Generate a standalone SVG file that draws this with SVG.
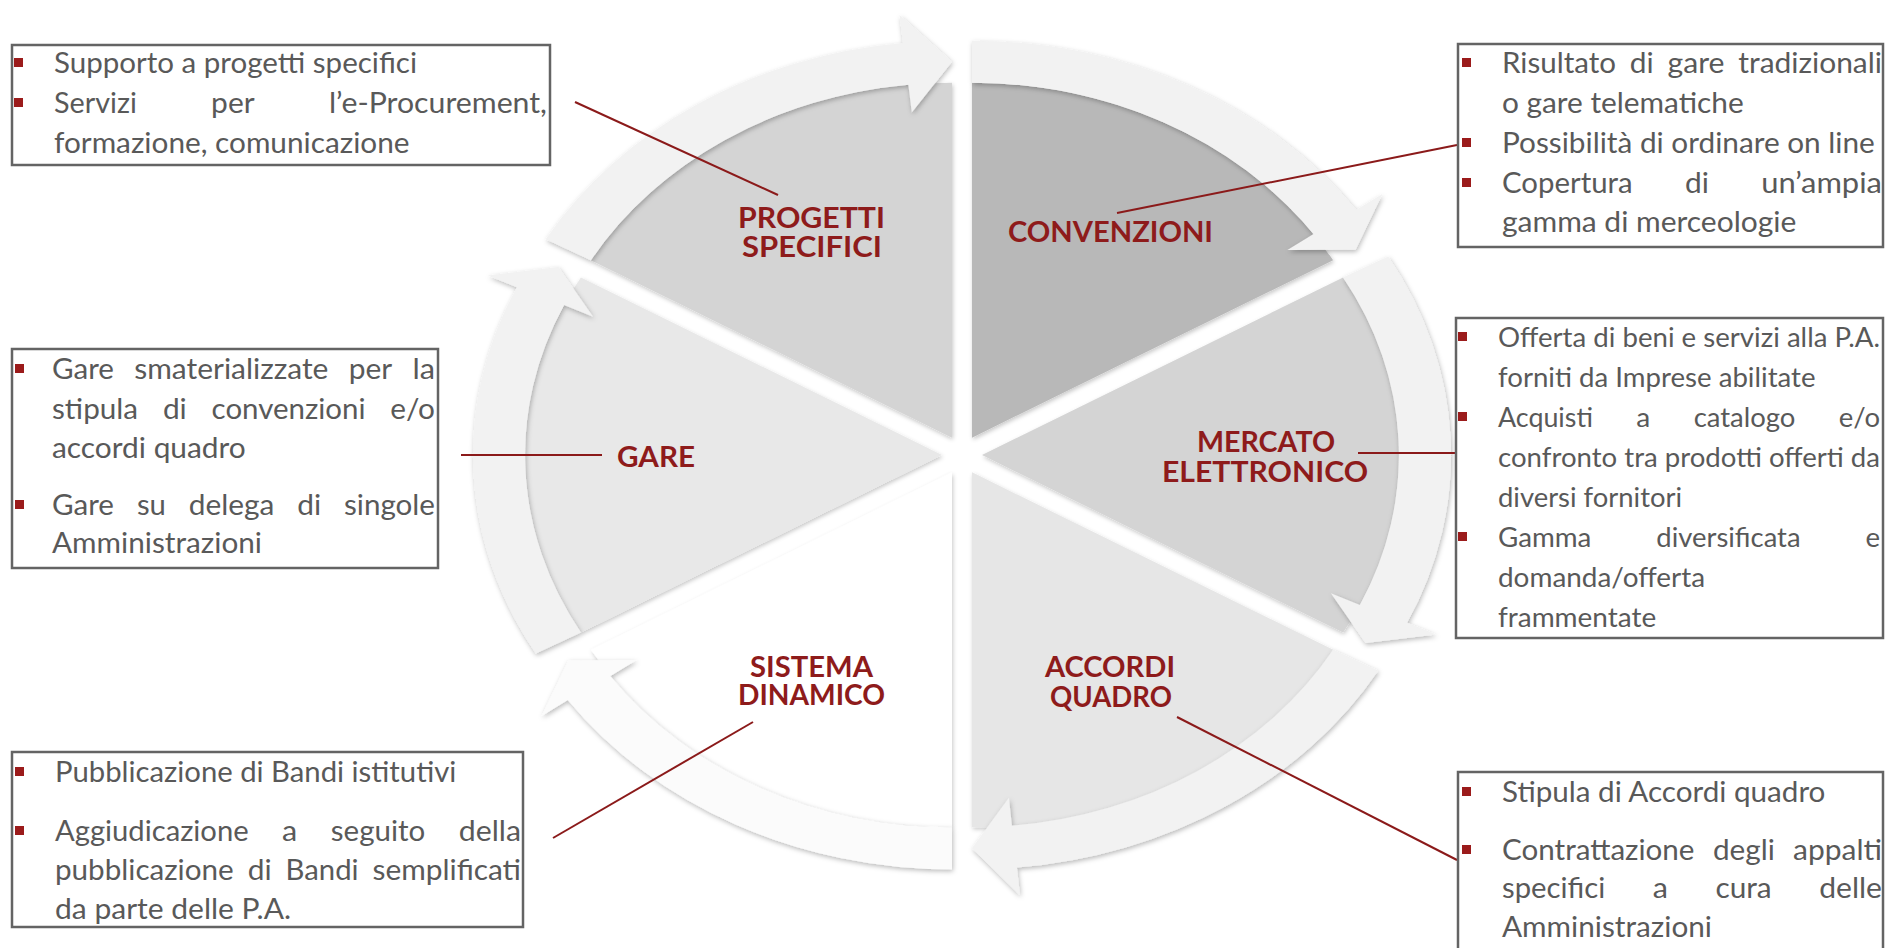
<svg xmlns="http://www.w3.org/2000/svg" width="1887" height="948" viewBox="0 0 1887 948">
<defs>
<style>
.bx{fill:#ffffff;stroke:#646464;stroke-width:2.5}
.tx{font-family:Lato,"Open Sans",sans-serif;font-size:29px;fill:#595959}
.t3{font-family:Lato,"Open Sans",sans-serif;font-size:27px;fill:#595959}
.bl{fill:#9b1b1b}
.lb{font-family:Lato,"Open Sans",sans-serif;font-weight:700;font-size:28px;fill:#8e1b1b}
.cn{stroke:#8b1a1a;stroke-width:2;fill:none}
.band{fill:#f2f2f2;filter:url(#sh)}
.sec{filter:url(#sh2)}
</style>
<filter id="sh" x="-20%" y="-20%" width="140%" height="140%"><feDropShadow dx="1" dy="2" stdDeviation="2.5" flood-color="#000" flood-opacity="0.28"/></filter>
<filter id="sh2" x="-20%" y="-20%" width="140%" height="140%"><feDropShadow dx="1" dy="2" stdDeviation="2" flood-color="#000" flood-opacity="0.22"/></filter>
</defs>
<rect width="1887" height="948" fill="#ffffff"/>

<!-- wheel segments -->
<g id="seg-progetti" transform="translate(-10,-17.32)">
<path class="sec" fill="#d4d4d4" d="M962,455 L600.9,277.5 A417 355 0 0 1 962,100 Z"/>
<path class="band" d="M555.8,256.5 A469 397 0 0 1 913,60.2 L909.6,32.3 L962,79 L921.8,129.8 L918.4,102 A417 355 0 0 0 600.9,277.5 Z"/>
</g>
<g id="seg-convenzioni" transform="translate(10,-17.32)">
<path class="sec" fill="#b8b8b8" d="M962,455 L962,100 A417 355 0 0 1 1323.1,277.5 Z"/>
<path class="band" d="M962,58 A469 397 0 0 1 1346.2,227.3 L1372.4,211.2 L1345.6,267 L1277.4,267.4 L1303.6,251.4 A417 355 0 0 0 962,100 Z"/>
</g>
<g id="seg-mercato" transform="translate(20,0)">
<path class="sec" fill="#d4d4d4" d="M962,455 L1323.1,277.5 A417 355 0 0 1 1323.1,632.5 Z"/>
<path class="band" d="M1368.2,256.5 A469 397 0 0 1 1387.1,622.8 L1416.1,634.6 L1345.6,643 L1310.9,593.2 L1339.9,605 A417 355 0 0 0 1323.1,277.5 Z"/>
</g>
<g id="seg-accordi" transform="translate(10,17.32)">
<path class="sec" fill="#e6e6e6" d="M962,455 L1323.1,632.5 A417 355 0 0 1 962,810 Z"/>
<path class="band" d="M1368.2,653.5 A469 397 0 0 1 1006.9,850.2 L1010,878 L962,831 L998.9,780.5 L1001.9,808.4 A417 355 0 0 0 1323.1,632.5 Z"/>
</g>
<g id="seg-sistema" transform="translate(-10,17.32)">
<path class="sec" fill="#ffffff" d="M962,455 L962,810 A417 355 0 0 1 600.9,632.5 Z"/>
<path class="band" style="fill:#fbfbfb" d="M962,852 A469 397 0 0 1 577.8,682.7 L551.6,698.8 L578.4,643 L646.6,642.6 L620.4,658.6 A417 355 0 0 0 962,810 Z"/>
</g>
<g id="seg-gare" transform="translate(-20,0)">
<path class="sec" fill="#e8e8e8" d="M962,455 L600.9,632.5 A417 355 0 0 1 600.9,277.5 Z"/>
<path class="band" d="M555.8,653.5 A469 397 0 0 1 536.9,287.2 L507.9,275.4 L578.4,267 L613.1,316.8 L584.1,305 A417 355 0 0 0 600.9,632.5 Z"/>
</g>

<!-- labels -->
<g id="label-progetti"><text class="lb"><tspan x="738" y="228" textLength="147" lengthAdjust="spacingAndGlyphs">PROGETTI</tspan><tspan x="742" y="257" textLength="140" lengthAdjust="spacingAndGlyphs">SPECIFICI</tspan></text></g>
<g id="label-convenzioni"><text class="lb" x="1008" y="242" textLength="205" lengthAdjust="spacingAndGlyphs">CONVENZIONI</text></g>
<g id="label-mercato"><text class="lb"><tspan x="1197" y="452" textLength="138" lengthAdjust="spacingAndGlyphs">MERCATO</tspan><tspan x="1162" y="482" textLength="206" lengthAdjust="spacingAndGlyphs">ELETTRONICO</tspan></text></g>
<g id="label-accordi"><text class="lb"><tspan x="1045" y="677" textLength="130" lengthAdjust="spacingAndGlyphs">ACCORDI</tspan><tspan x="1050" y="707" textLength="122" lengthAdjust="spacingAndGlyphs">QUADRO</tspan></text></g>
<g id="label-sistema"><text class="lb"><tspan x="750" y="677" textLength="123" lengthAdjust="spacingAndGlyphs">SISTEMA</tspan><tspan x="738" y="705" textLength="147" lengthAdjust="spacingAndGlyphs">DINAMICO</tspan></text></g>
<g id="label-gare"><text class="lb" x="617" y="467" textLength="78" lengthAdjust="spacingAndGlyphs">GARE</text></g>

<!-- connectors -->
<g id="connectors">
<line class="cn" x1="575" y1="102" x2="778" y2="195"/>
<line class="cn" x1="1117" y1="213" x2="1457" y2="145"/>
<line class="cn" x1="1358" y1="453" x2="1456" y2="453"/>
<line class="cn" x1="1177" y1="717" x2="1457" y2="860"/>
<line class="cn" x1="753" y1="722" x2="553" y2="838"/>
<line class="cn" x1="461" y1="455" x2="602" y2="455"/>
</g>

<!-- callout boxes -->
<g id="box-progetti">
<rect class="bx" x="12" y="45" width="538" height="120"/>
<rect class="bl" x="14" y="58" width="9" height="9"/><rect class="bl" x="14" y="98" width="9" height="9"/>
<text class="tx" x="54" y="73" textLength="363" lengthAdjust="spacingAndGlyphs">Supporto a progetti specifici</text>
<text class="tx" x="54" y="113" textLength="82.8" lengthAdjust="spacingAndGlyphs">Servizi</text>
<text class="tx" x="211.1" y="113" textLength="43.5" lengthAdjust="spacingAndGlyphs">per</text>
<text class="tx" x="328.9" y="113" textLength="218.1" lengthAdjust="spacingAndGlyphs">l’e-Procurement,</text>
<text class="tx" x="54" y="153" textLength="355.5" lengthAdjust="spacingAndGlyphs">formazione, comunicazione</text>
</g>

<g id="box-convenzioni">
<rect class="bx" x="1458" y="44" width="425" height="203"/>
<rect class="bl" x="1462" y="58" width="9" height="9"/><rect class="bl" x="1462" y="138" width="9" height="9"/><rect class="bl" x="1462" y="178" width="9" height="9"/>
<text class="tx" x="1502" y="73" textLength="114" lengthAdjust="spacingAndGlyphs">Risultato</text>
<text class="tx" x="1629.8" y="73" textLength="23.9" lengthAdjust="spacingAndGlyphs">di</text>
<text class="tx" x="1667.5" y="73" textLength="57" lengthAdjust="spacingAndGlyphs">gare</text>
<text class="tx" x="1738.3" y="73" textLength="143.7" lengthAdjust="spacingAndGlyphs">tradizionali</text>
<text class="tx" x="1502" y="113" textLength="241.7" lengthAdjust="spacingAndGlyphs">o gare telematiche</text>
<text class="tx" x="1502" y="153" textLength="372.8" lengthAdjust="spacingAndGlyphs">Possibilità di ordinare on line</text>
<text class="tx" x="1502" y="193" textLength="130.6" lengthAdjust="spacingAndGlyphs">Copertura</text>
<text class="tx" x="1685" y="193" textLength="23.9" lengthAdjust="spacingAndGlyphs">di</text>
<text class="tx" x="1761.2" y="193" textLength="120.8" lengthAdjust="spacingAndGlyphs">un’ampia</text>
<text class="tx" x="1502" y="232" textLength="294.3" lengthAdjust="spacingAndGlyphs">gamma di merceologie</text>
</g>

<g id="box-mercato">
<rect class="bx" x="1456" y="318" width="427" height="320"/>
<rect class="bl" x="1458" y="332" width="9" height="9"/><rect class="bl" x="1458" y="412" width="9" height="9"/><rect class="bl" x="1458" y="532" width="9" height="9"/>
<text class="t3" x="1498" y="347" textLength="382" lengthAdjust="spacingAndGlyphs">Offerta di beni e servizi alla P.A.</text>
<text class="t3" x="1498" y="387" textLength="317.5" lengthAdjust="spacingAndGlyphs">forniti da Imprese abilitate</text>
<text class="t3" x="1498" y="427" textLength="94.9" lengthAdjust="spacingAndGlyphs">Acquisti</text>
<text class="t3" x="1636.3" y="427" textLength="14" lengthAdjust="spacingAndGlyphs">a</text>
<text class="t3" x="1693.7" y="427" textLength="101.7" lengthAdjust="spacingAndGlyphs">catalogo</text>
<text class="t3" x="1838.7" y="427" textLength="41.3" lengthAdjust="spacingAndGlyphs">e/o</text>
<text class="t3" x="1498" y="467" textLength="382" lengthAdjust="spacingAndGlyphs">confronto tra prodotti offerti da</text>
<text class="t3" x="1498" y="507" textLength="184" lengthAdjust="spacingAndGlyphs">diversi fornitori</text>
<text class="t3" x="1498" y="547" textLength="93.4" lengthAdjust="spacingAndGlyphs">Gamma</text>
<text class="t3" x="1656.3" y="547" textLength="144.3" lengthAdjust="spacingAndGlyphs">diversificata</text>
<text class="t3" x="1865.4" y="547" textLength="14.6" lengthAdjust="spacingAndGlyphs">e</text>
<text class="t3" x="1498" y="587" textLength="207" lengthAdjust="spacingAndGlyphs">domanda/offerta</text>
<text class="t3" x="1498" y="627" textLength="158.2" lengthAdjust="spacingAndGlyphs">frammentate</text>
</g>

<g id="box-gare">
<rect class="bx" x="12" y="349" width="426" height="219"/>
<rect class="bl" x="15" y="364" width="9" height="9"/><rect class="bl" x="15" y="500" width="9" height="9"/>
<text class="tx" x="52" y="379" textLength="62" lengthAdjust="spacingAndGlyphs">Gare</text>
<text class="tx" x="134.3" y="379" textLength="194.1" lengthAdjust="spacingAndGlyphs">smaterializzate</text>
<text class="tx" x="348.7" y="379" textLength="43.5" lengthAdjust="spacingAndGlyphs">per</text>
<text class="tx" x="412.5" y="379" textLength="22.5" lengthAdjust="spacingAndGlyphs">la</text>
<text class="tx" x="52" y="419" textLength="86.1" lengthAdjust="spacingAndGlyphs">stipula</text>
<text class="tx" x="162.9" y="419" textLength="23.9" lengthAdjust="spacingAndGlyphs">di</text>
<text class="tx" x="211.6" y="419" textLength="154" lengthAdjust="spacingAndGlyphs">convenzioni</text>
<text class="tx" x="390.3" y="419" textLength="44.7" lengthAdjust="spacingAndGlyphs">e/o</text>
<text class="tx" x="52" y="458" textLength="193.8" lengthAdjust="spacingAndGlyphs">accordi quadro</text>
<text class="tx" x="52" y="515" textLength="62" lengthAdjust="spacingAndGlyphs">Gare</text>
<text class="tx" x="136.9" y="515" textLength="29" lengthAdjust="spacingAndGlyphs">su</text>
<text class="tx" x="188.8" y="515" textLength="85.6" lengthAdjust="spacingAndGlyphs">delega</text>
<text class="tx" x="297.3" y="515" textLength="23.9" lengthAdjust="spacingAndGlyphs">di</text>
<text class="tx" x="344" y="515" textLength="91" lengthAdjust="spacingAndGlyphs">singole</text>
<text class="tx" x="52" y="553" textLength="210" lengthAdjust="spacingAndGlyphs">Amministrazioni</text>
</g>

<g id="box-sistema">
<rect class="bx" x="12" y="752" width="511" height="175"/>
<rect class="bl" x="15" y="767" width="9" height="9"/><rect class="bl" x="15" y="826" width="9" height="9"/>
<text class="tx" x="55" y="782" textLength="401.3" lengthAdjust="spacingAndGlyphs">Pubblicazione di Bandi istitutivi</text>
<text class="tx" x="55" y="841" textLength="193.6" lengthAdjust="spacingAndGlyphs">Aggiudicazione</text>
<text class="tx" x="282.1" y="841" textLength="15.2" lengthAdjust="spacingAndGlyphs">a</text>
<text class="tx" x="330.8" y="841" textLength="94.4" lengthAdjust="spacingAndGlyphs">seguito</text>
<text class="tx" x="458.8" y="841" textLength="62.2" lengthAdjust="spacingAndGlyphs">della</text>
<text class="tx" x="55" y="880" textLength="178.7" lengthAdjust="spacingAndGlyphs">pubblicazione</text>
<text class="tx" x="247.7" y="880" textLength="23.9" lengthAdjust="spacingAndGlyphs">di</text>
<text class="tx" x="285.6" y="880" textLength="73" lengthAdjust="spacingAndGlyphs">Bandi</text>
<text class="tx" x="372.5" y="880" textLength="148.5" lengthAdjust="spacingAndGlyphs">semplificati</text>
<text class="tx" x="55" y="919" textLength="236.1" lengthAdjust="spacingAndGlyphs">da parte delle P.A.</text>
</g>

<g id="box-accordi">
<rect class="bx" x="1458" y="772" width="425" height="190"/>
<rect class="bl" x="1462" y="787" width="9" height="9"/><rect class="bl" x="1462" y="845" width="9" height="9"/>
<text class="tx" x="1502" y="802" textLength="323.4" lengthAdjust="spacingAndGlyphs">Stipula di Accordi quadro</text>
<text class="tx" x="1502" y="860" textLength="192.5" lengthAdjust="spacingAndGlyphs">Contrattazione</text>
<text class="tx" x="1712.9" y="860" textLength="61.9" lengthAdjust="spacingAndGlyphs">degli</text>
<text class="tx" x="1793.1" y="860" textLength="88.9" lengthAdjust="spacingAndGlyphs">appalti</text>
<text class="tx" x="1502" y="898" textLength="103.2" lengthAdjust="spacingAndGlyphs">specifici</text>
<text class="tx" x="1652.7" y="898" textLength="15.2" lengthAdjust="spacingAndGlyphs">a</text>
<text class="tx" x="1715.4" y="898" textLength="56.3" lengthAdjust="spacingAndGlyphs">cura</text>
<text class="tx" x="1819.2" y="898" textLength="62.8" lengthAdjust="spacingAndGlyphs">delle</text>
<text class="tx" x="1502" y="937" textLength="210" lengthAdjust="spacingAndGlyphs">Amministrazioni</text>
</g>
</svg>
